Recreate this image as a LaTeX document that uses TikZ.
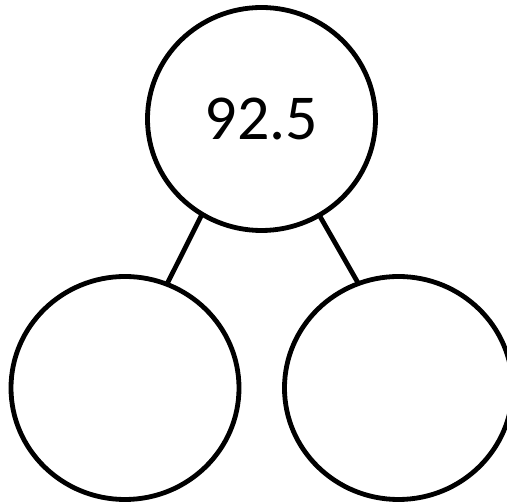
\documentclass[tikz,border=0pt]{standalone}
\usepackage{fontspec}
\setmainfont{Carlito}
\usetikzlibrary{shapes.geometric}
\begin{document}
\begin{tikzpicture}[x=1pt,y=1pt,
  bubble/.style={draw=black,line width=4.8pt,ellipse,inner sep=0pt,outer sep=0pt,
    minimum width=228pt,minimum height=223pt},
  link/.style={draw=black,line width=4.8pt}]
\useasboundingbox (0,0) rectangle (507,503);
\node[bubble,font=\fontsize{64}{76}\selectfont] (top) at (261.5,384) {\raisebox{-5pt}{92.5}};
\node[bubble] (left) at (125,115) {};
\node[bubble] (right) at (398.5,115) {};
\draw[link] (top.238.3) -- (left.68.4);
\draw[link] (top.301.7) -- (right.111.8);
\end{tikzpicture}
\end{document}
